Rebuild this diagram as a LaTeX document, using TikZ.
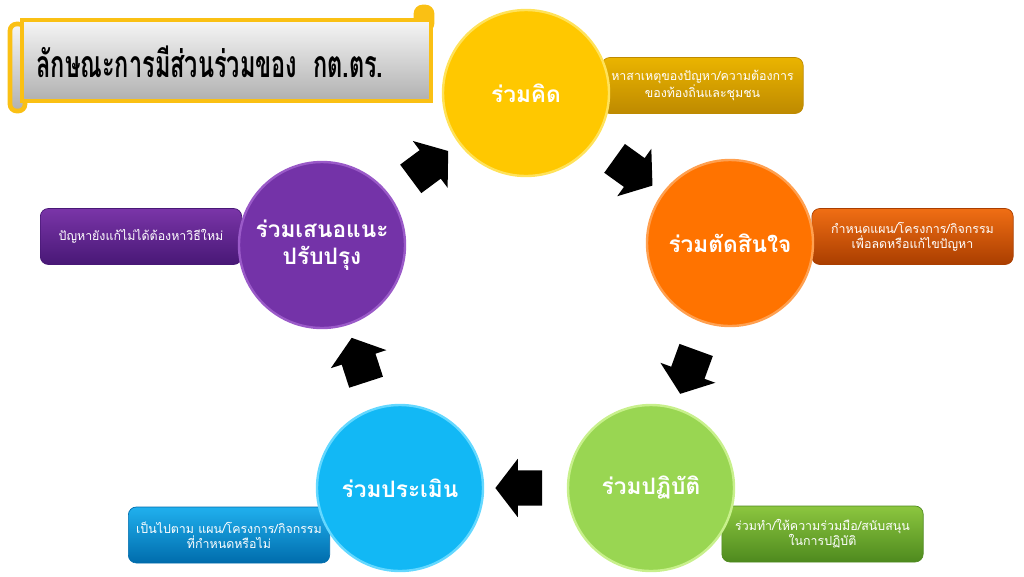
\documentclass[tikz,border=0pt]{standalone}
\usepackage{fontspec}
\usepackage{graphicx}
\newfontfamily\thaifont[Script=Thai]{Loma}
\usetikzlibrary{calc,shapes.arrows}

\definecolor{kidfill}{RGB}{255,200,0}
\definecolor{kidrim}{RGB}{255,226,90}
\definecolor{kidtop}{RGB}{234,180,0}
\definecolor{kidbot}{RGB}{190,138,0}
\definecolor{tatfill}{RGB}{255,115,0}
\definecolor{tatrim}{RGB}{255,160,80}
\definecolor{tattop}{RGB}{240,110,20}
\definecolor{tatbot}{RGB}{170,62,0}
\definecolor{patfill}{RGB}{153,214,82}
\definecolor{patrim}{RGB}{200,240,140}
\definecolor{pattop}{RGB}{140,198,63}
\definecolor{patbot}{RGB}{78,138,30}
\definecolor{prafill}{RGB}{18,184,245}
\definecolor{prarim}{RGB}{100,216,255}
\definecolor{pratop}{RGB}{32,176,238}
\definecolor{prabot}{RGB}{0,108,172}
\definecolor{sanoefill}{RGB}{116,51,168}
\definecolor{sanoerim}{RGB}{154,90,200}
\definecolor{sanoetop}{RGB}{122,53,168}
\definecolor{sanoebot}{RGB}{72,24,118}
\definecolor{scrollgold}{RGB}{250,192,20}
\definecolor{scrolltop}{RGB}{246,246,246}
\definecolor{scrollbot}{RGB}{176,176,176}

\begin{document}
\begin{tikzpicture}[x=0.75pt,y=0.75pt,yscale=-1,xscale=1,
  bubble/.style={circle,minimum size=124.5pt,inner sep=0pt,line width=1.8pt,fill=#1fill,draw=#1rim,text=white,align=center,font=\thaifont\bfseries\fontsize{17}{20}\selectfont},
  note/.style={rounded corners=6pt,minimum width=151pt,minimum height=42pt,inner sep=2pt,top color=#1top,bottom color=#1bot,draw=#1bot,line width=0.5pt,text=white,align=center,font=\thaifont\fontsize{9.3}{11.2}\selectfont},
  cyclearrow/.style={single arrow,fill=black,inner xsep=0pt,inner ysep=13.1pt,minimum height=35pt,single arrow head extend=8.6pt,single arrow tip angle=105}]
\useasboundingbox (0,0) rectangle (1024,576);

%Shape: Scroll
\draw [color=scrollgold,line width=3.5pt,top color=scrolltop,bottom color=scrollbot,rounded corners=5pt] (10,24) rectangle (25,111) ;
\draw [color=scrollgold,line width=3.5pt,fill=scrollgold,rounded corners=5pt] (416,7) rectangle (432,30) ;
\draw [color=scrollgold,line width=3.5pt,top color=scrolltop,bottom color=scrollbot] (22,20) rectangle (431,101) ;
% Text Node
\node [font=\thaifont\bfseries\fontsize{28}{32}\selectfont] (title) at (210,62) {\scalebox{0.63}[1]{ลักษณะการมีส่วนร่วมของ\ \ กต.ตร.}};

%Shape: Side boxes
\node [note=kid] (kidnote) at (702.5,85.5) {หาสาเหตุของปัญหา/ความต้องการ\\ของท้องถิ่นและชุมชน};
\node [note=tat] (tatnote) at (912.5,236.5) {กำหนดแผน/โครงการ/กิจกรรม\\เพื่อลดหรือแก้ไขปัญหา};
\node [note=pat] (patnote) at (822.5,534) {ร่วมทำ/ให้ความร่วมมือ/สนับสนุน\\ในการปฏิบัติ};
\node [note=pra] (pranote) at (229,535) {เป็นไปตาม แผน/โครงการ/กิจกรรม\\ที่กำหนดหรือไม่};
\node [note=sanoe] (sanoenote) at (141,236.5) {ปัญหายังแก้ไม่ได้ต้องหาวิธีใหม่};

%Shape: Circles
\node [bubble=kid] (kid) at (526,93) {ร่วมคิด};
\node [bubble=tat] (tat) at (730,243) {ร่วมตัดสินใจ};
\node [bubble=pat] (pat) at (651,488) {ร่วมปฏิบัติ};
\node [bubble=pra] (pra) at (400,488) {ร่วมประเมิน};
\node [bubble=sanoe] (sanoe) at (322,245) {ร่วมเสนอแนะ\\ปรับปรุง};

%Shape: Block arrows
\node [cyclearrow,rotate=36.6] (a1) at ($(sanoe)!0.5!(kid)$) {};
\node [cyclearrow,rotate=-35.7] (a2) at ($(kid)!0.5!(tat)$) {};
\node [cyclearrow,rotate=-110] (a3) at ($(tat)!0.5!(pat)$) {};
\node [cyclearrow,rotate=180] (a4) at ($(pat)!0.5!(pra)$) {};
\node [cyclearrow,rotate=108] (a5) at ($(pra)!0.5!(sanoe)$) {};

\end{tikzpicture}
\end{document}
